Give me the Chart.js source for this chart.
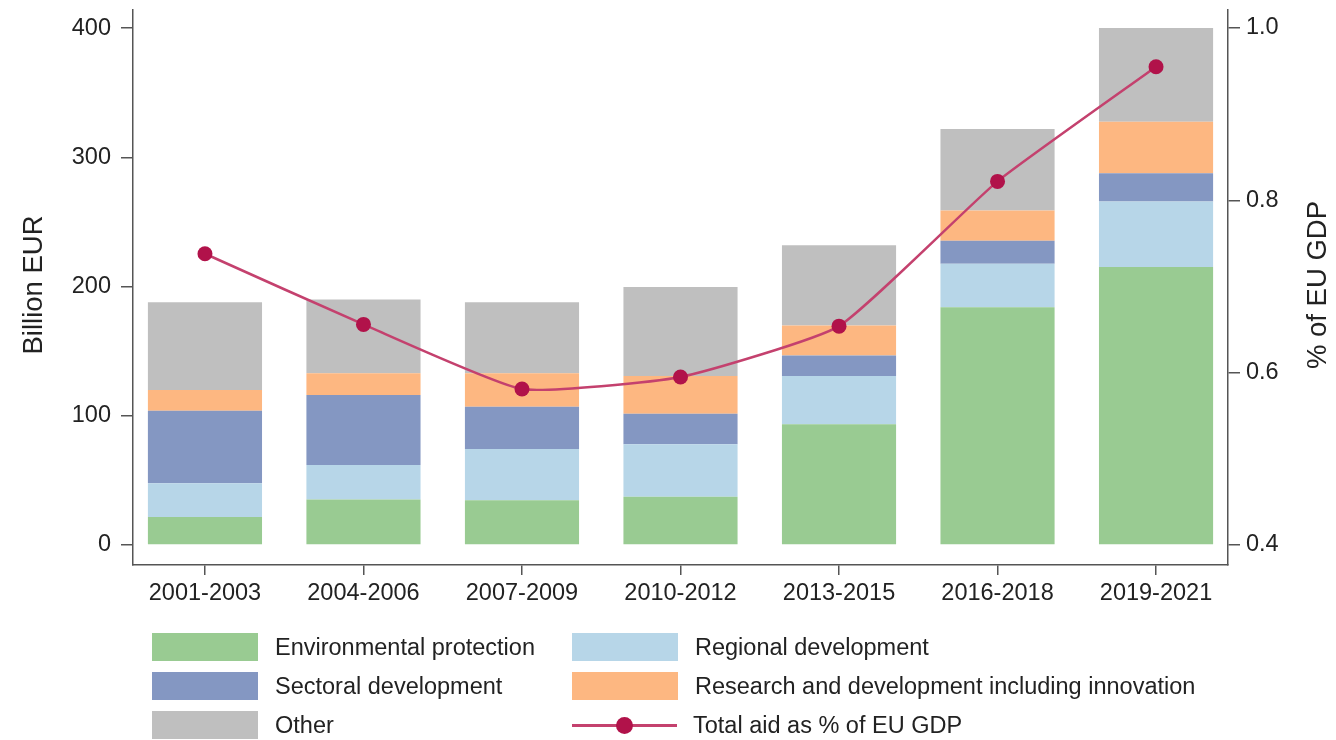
<!DOCTYPE html>
<html>
<head>
<meta charset="utf-8">
<script src="https://cdn.jsdelivr.net/npm/chart.js@4/dist/chart.umd.min.js"></script>
<style>
  html, body { margin: 0; padding: 0; background: #fff; }
  .wrap { position: relative; width: 1336px; height: 740px; font-family: "Liberation Sans", Arial, sans-serif; color: #222; }
  .chart-box { position: absolute; left: 0; top: 0; width: 1336px; height: 620px; }
  .legend { position: absolute; left: 0; top: 0; width: 1336px; height: 740px; pointer-events: none; }
  .lg-item { position: absolute; height: 30px; display: flex; align-items: center; font-size: 23.5px; white-space: nowrap; }
  .lg-swatch { width: 106px; height: 28px; margin-right: 17px; }
  .lg-line { position: relative; width: 105px; height: 28px; margin-right: 16px; }
  .lg-line .bar { position: absolute; left: 0; right: 0; top: 13px; height: 3px; background: #C4416E; }
  .lg-line .dot { position: absolute; left: 44px; top: 6px; width: 17px; height: 17px; border-radius: 50%; background: #B1124A; }
</style>
</head>
<body>
<div class="wrap">
  <div class="chart-box"><canvas id="c" width="1336" height="620"></canvas></div>
  <div class="legend" id="legend"></div>
</div>
<script>
const CATEGORIES = ['2001-2003', '2004-2006', '2007-2009', '2010-2012', '2013-2015', '2016-2018', '2019-2021'];

// billion EUR
const ENVIRONMENT = [21.7, 35.1, 34.6, 37.3, 93.4, 184.0, 215.1];
const REGIONAL    = [26.1, 26.7, 39.6, 40.7, 37.3, 33.7, 50.7];
const SECTORAL    = [56.1, 54.2, 32.8, 23.6, 16.0, 17.8, 21.9];
const RESEARCH    = [16.0, 16.8, 25.8, 29.1, 23.1, 23.4, 39.9];
const OTHER       = [68.0, 57.1, 55.1, 69.0, 62.1, 63.0, 72.5];

// % of EU GDP
const AID_PCT_GDP = [0.738, 0.656, 0.581, 0.595, 0.654, 0.822, 0.955];

const LEFT_TICKS = [0, 100, 200, 300, 400];
const RIGHT_TICKS = [0.4, 0.6, 0.8, 1.0];

const FONT = '"Liberation Sans", Arial, sans-serif';
const AXIS = '#555';

const SERIES = [
  { label: 'Environmental protection', data: ENVIRONMENT, color: '#99CB92' },
  { label: 'Regional development', data: REGIONAL, color: '#B7D6E8' },
  { label: 'Sectoral development', data: SECTORAL, color: '#8497C2' },
  { label: 'Research and development including innovation', data: RESEARCH, color: '#FDB781' },
  { label: 'Other', data: OTHER, color: '#BFBFBF' },
];

// x is a linear index axis so the category spacing can match the original
const xy = (arr) => arr.map((v, i) => ({ x: i, y: v }));

const barSets = SERIES.map((s) => ({
  type: 'bar',
  label: s.label,
  data: xy(s.data),
  backgroundColor: s.color,
  borderWidth: 0,
  stack: 'aid',
  yAxisID: 'y',
  barPercentage: 0.72,
  categoryPercentage: 1,
  order: 2,
}));

const lineSet = {
  type: 'line',
  label: 'Total aid as % of EU GDP',
  data: xy(AID_PCT_GDP),
  yAxisID: 'y2',
  borderColor: '#C4416E',
  borderWidth: 2.5,
  pointRadius: 7.5,
  pointBackgroundColor: '#B1124A',
  pointBorderColor: '#B1124A',
  pointBorderWidth: 0,
  tension: 0.15,
  order: 1,
};

// axis titles, both read bottom to top
const axisTitles = {
  id: 'axisTitles',
  afterDraw(chart) {
    const { ctx } = chart;
    ctx.save();
    ctx.font = `27.5px ${FONT}`;
    ctx.fillStyle = '#222';
    ctx.textAlign = 'center';
    ctx.textBaseline = 'middle';
    [[34, 'Billion EUR'], [1318, '% of EU GDP']].forEach(([x, t]) => {
      ctx.save();
      ctx.translate(x, 285);
      ctx.rotate(-Math.PI / 2);
      ctx.fillText(t, 0, 0);
      ctx.restore();
    });
    ctx.restore();
  },
};

const gridStyle = { drawOnChartArea: false, drawTicks: true, tickLength: 12, color: AXIS, lineWidth: 1.5 };
const borderStyle = { display: true, color: AXIS, width: 1.5 };
const tickFont = { family: FONT, size: 23.5 };

new Chart(document.getElementById('c'), {
  data: { datasets: [...barSets, lineSet] },
  options: {
    responsive: false,
    animation: false,
    layout: { padding: { top: 10, left: 0, right: 0, bottom: 0 } },
    plugins: { legend: { display: false }, tooltip: { enabled: false } },
    scales: {
      x: {
        type: 'linear',
        offset: false,
        min: -0.454,
        max: 6.454,
        grid: { ...gridStyle, tickLength: 10, offset: false },
        border: borderStyle,
        ticks: { font: tickFont, color: '#222', padding: 4, maxRotation: 0, autoSkip: false, callback: (v) => CATEGORIES[v] },
        afterBuildTicks: (s) => { s.ticks = CATEGORIES.map((_, i) => ({ value: i })); },
        afterFit: (s) => { s.height = 55; s.paddingLeft = 0; s.paddingRight = 0; },
      },
      y: {
        position: 'left',
        stacked: true,
        min: -15.5,
        max: 414,
        grid: gridStyle,
        border: borderStyle,
        ticks: { font: tickFont, color: '#222', padding: 10 },
        afterBuildTicks: (s) => { s.ticks = LEFT_TICKS.map((v) => ({ value: v })); },
        afterFit: (s) => { s.width = 133; s.paddingTop = 0; s.paddingBottom = 0; },
      },
      y2: {
        position: 'right',
        min: 0.3768,
        max: 1.0209,
        grid: gridStyle,
        border: borderStyle,
        ticks: { font: tickFont, color: '#222', padding: 6, callback: (v) => Number(v).toFixed(1) },
        afterBuildTicks: (s) => { s.ticks = RIGHT_TICKS.map((v) => ({ value: v })); },
        afterFit: (s) => { s.width = 108; s.paddingTop = 0; s.paddingBottom = 0; },
      },
    },
  },
  plugins: [axisTitles],
});

// two-column legend under the chart
const LEGEND_ROWS = [
  [SERIES[0], SERIES[1]],
  [SERIES[2], SERIES[3]],
  [SERIES[4], null],
];
const legend = document.getElementById('legend');
const colX = [152, 572];
const rowY = [632, 671, 710];
LEGEND_ROWS.forEach((row, r) => {
  row.forEach((s, c) => {
    const item = document.createElement('div');
    item.className = 'lg-item';
    item.style.left = colX[c] + 'px';
    item.style.top = rowY[r] + 'px';
    if (s) {
      item.innerHTML = `<span class="lg-swatch" style="background:${s.color}"></span><span>${s.label}</span>`;
    } else {
      item.innerHTML = `<span class="lg-line"><span class="bar"></span><span class="dot"></span></span><span>${lineSet.label}</span>`;
    }
    legend.appendChild(item);
  });
});
</script>
</body>
</html>
